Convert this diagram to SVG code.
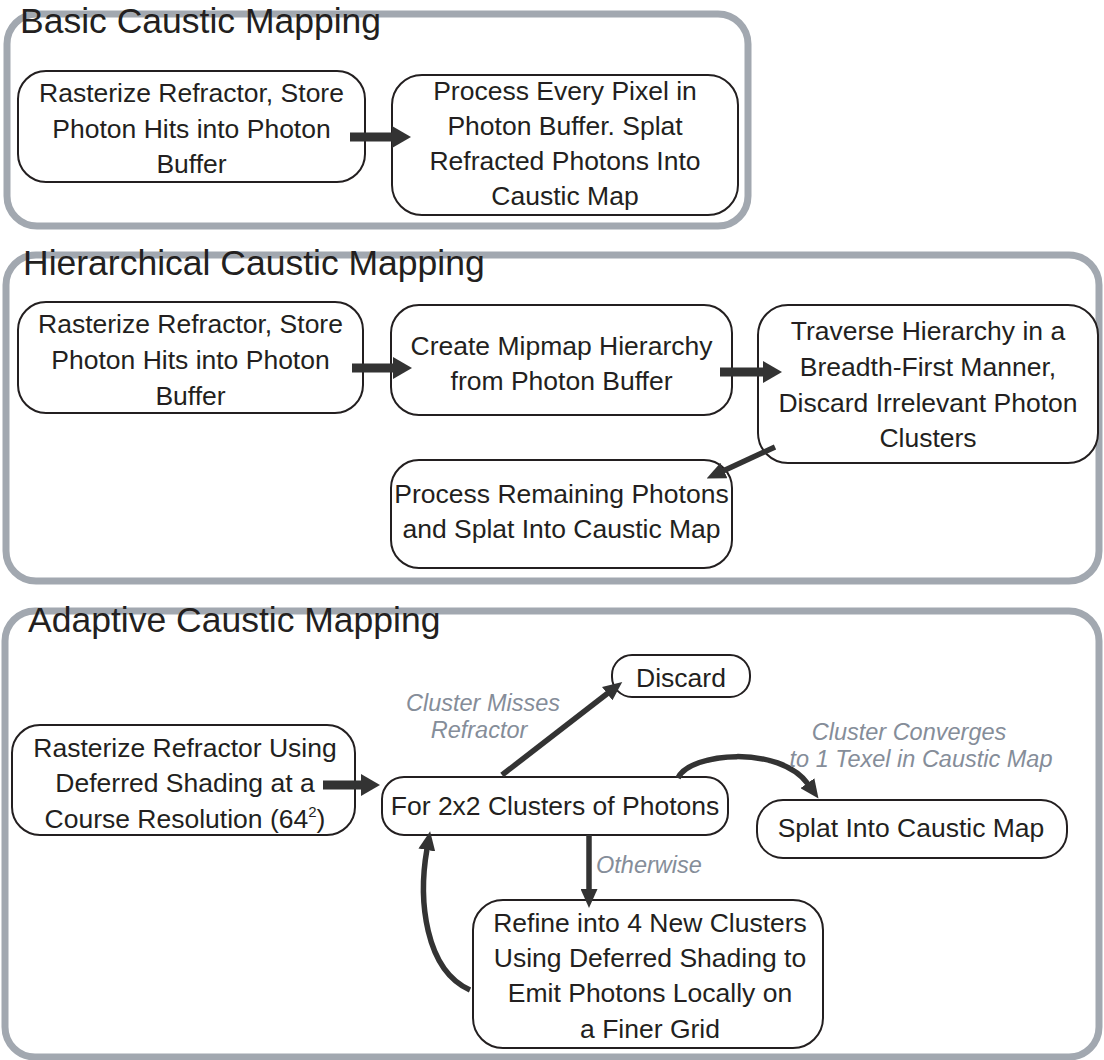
<svg xmlns="http://www.w3.org/2000/svg" width="1104" height="1060" viewBox="0 0 1104 1060">
<style>
.frame{fill:none;stroke:#a2a8b0;stroke-width:7}
.title{font-family:"Liberation Sans",Arial,sans-serif;font-size:35.5px;fill:#231f20}
.node rect{fill:#fff;stroke:#231f20;stroke-width:2}
.node text{font-family:"Liberation Sans",Arial,sans-serif;font-size:26.5px;fill:#231f20;text-anchor:middle}
.blk{fill:none;stroke:#333;stroke-width:9}
.ln{fill:none;stroke:#333;stroke-width:5.5}
.lbl{font-family:"Liberation Sans",Arial,sans-serif;font-size:23.5px;font-style:italic;fill:#858d99}
</style>
<defs>
<marker id="hb" markerUnits="userSpaceOnUse" markerWidth="19" markerHeight="22" viewBox="0 0 19 22" refX="1" refY="11" orient="auto">
<path d="M0,0 L19,11 L0,22 z" fill="#333"/>
</marker>
<marker id="hl" markerUnits="userSpaceOnUse" markerWidth="19" markerHeight="17" viewBox="0 0 19 17" refX="1" refY="8.5" orient="auto">
<path d="M0,0 L19,8.5 L0,17 z" fill="#333"/>
</marker>
</defs>
<rect width="1104" height="1060" fill="#fff"/>

<g id="sec-basic">
<rect class="frame" x="7" y="14" width="741" height="212" rx="30"/>
<text class="title" x="20" y="33">Basic Caustic Mapping</text>
</g>
<g id="sec-hier">
<rect class="frame" x="6" y="255" width="1093" height="326" rx="30"/>
<text class="title" x="23" y="275">Hierarchical Caustic Mapping</text>
</g>
<g id="sec-adapt">
<rect class="frame" x="5" y="611" width="1094" height="446" rx="30"/>
<text class="title" x="28" y="632">Adaptive Caustic Mapping</text>
</g>

<g id="n1a" class="node">
<rect x="18" y="71" width="347" height="111" rx="28"/>
<text x="191.5" y="102">Rasterize Refractor, Store</text>
<text x="191.5" y="138">Photon Hits into Photon</text>
<text x="191.5" y="173">Buffer</text>
</g>
<g id="n1b" class="node">
<rect x="392" y="75" width="346" height="140" rx="30"/>
<text x="565" y="100">Process Every Pixel in</text>
<text x="565" y="135">Photon Buffer. Splat</text>
<text x="565" y="170">Refracted Photons Into</text>
<text x="565" y="205">Caustic Map</text>
</g>

<g id="n2a" class="node">
<rect x="18" y="302" width="345" height="111" rx="28"/>
<text x="190.5" y="333">Rasterize Refractor, Store</text>
<text x="190.5" y="369">Photon Hits into Photon</text>
<text x="190.5" y="405">Buffer</text>
</g>
<g id="n2b" class="node">
<rect x="391" y="305" width="341" height="110" rx="28"/>
<text x="561.5" y="355">Create Mipmap Hierarchy</text>
<text x="561.5" y="390">from Photon Buffer</text>
</g>
<g id="n2c" class="node">
<rect x="758" y="305" width="340" height="158" rx="30"/>
<text x="928" y="340">Traverse Hierarchy in a</text>
<text x="928" y="376">Breadth-First Manner,</text>
<text x="928" y="412">Discard Irrelevant Photon</text>
<text x="928" y="447">Clusters</text>
</g>
<g id="n2d" class="node">
<rect x="391" y="460" width="341" height="108" rx="28"/>
<text x="561.5" y="503">Process Remaining Photons</text>
<text x="561.5" y="538">and Splat Into Caustic Map</text>
</g>

<g id="n3a" class="node">
<rect x="12" y="725" width="343" height="110" rx="28"/>
<text x="185" y="757">Rasterize Refractor Using</text>
<text x="185" y="792">Deferred Shading at a</text>
<text x="185" y="828">Course Resolution (64<tspan font-size="15" dy="-11">2</tspan><tspan dy="11">)</tspan></text>
</g>
<g id="n3b" class="node">
<rect x="382" y="777" width="346" height="58" rx="22"/>
<text x="555" y="815">For 2x2 Clusters of Photons</text>
</g>
<g id="n3c" class="node">
<rect x="612" y="655" width="138" height="42" rx="20"/>
<text x="681" y="687">Discard</text>
</g>
<g id="n3d" class="node">
<rect x="757" y="800" width="310" height="58" rx="26"/>
<text x="911" y="837">Splat Into Caustic Map</text>
</g>
<g id="n3e" class="node">
<rect x="473" y="900" width="350" height="148" rx="30"/>
<text x="650" y="932">Refine into 4 New Clusters</text>
<text x="650" y="967">Using Deferred Shading to</text>
<text x="650" y="1002">Emit Photons Locally on</text>
<text x="650" y="1038">a Finer Grid</text>
</g>

<g id="connectors">
<path class="blk" d="M350,137 L393,137" marker-end="url(#hb)"/>
<path class="blk" d="M352,368 L394,368" marker-end="url(#hb)"/>
<path class="blk" d="M720,372 L764,372" marker-end="url(#hb)"/>
<path class="ln" d="M775,447 L723,471" marker-end="url(#hl)"/>
<path class="blk" d="M323,785 L362,785" marker-end="url(#hb)"/>
<path class="ln" d="M502,775 L608,693" marker-end="url(#hl)"/>
<path class="ln" d="M678,778 C690,752 780,745 808,784" marker-end="url(#hl)"/>
<path class="ln" d="M589,835 L589,890" marker-end="url(#hl)"/>
<path class="ln" d="M470,990 C425,970 418,900 427,849" marker-end="url(#hl)"/>
<text class="lbl" x="483" y="711" text-anchor="middle">Cluster Misses</text>
<text class="lbl" x="479" y="738" text-anchor="middle">Refractor</text>
<text class="lbl" x="909" y="740" text-anchor="middle">Cluster Converges</text>
<text class="lbl" x="921" y="767" text-anchor="middle">to 1 Texel in Caustic Map</text>
<text class="lbl" x="596" y="873">Otherwise</text>
</g>
</svg>
